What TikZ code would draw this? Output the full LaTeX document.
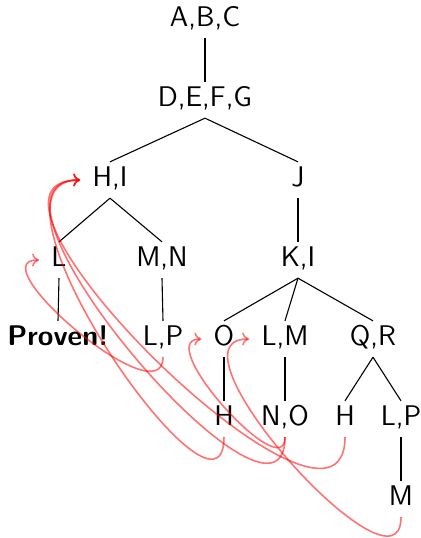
\documentclass[tikz,border=0pt]{standalone}
\usetikzlibrary{arrows.meta}
\begin{document}
\begin{tikzpicture}[x=0.5pt, y=-0.5pt,
  goal/.style={font=\fontsize{14.2}{17}\selectfont\sffamily, inner xsep=6pt, inner ysep=3.85pt,
               text height=0.85em, text depth=0.156em},
  branch/.style={draw=black, line width=0.55pt},
  back/.style={-{To[length=3.5pt,width=6.5pt]}, draw=red, draw opacity=0.55, line width=0.8pt}]
\useasboundingbox (0,0) rectangle (421,538);

% goal tree
\node[goal] (abc)  at (205,20)  {A,B,C};
\node[goal] (defg) at (205,100) {D,E,F,G};
\node[goal] (hi)   at (110,180) {H,I};
\node[goal] (j)    at (298,180) {J};
\node[goal] (l)    at (59,260)  {L};
\node[goal] (mn)   at (162,260) {M,N};
\node[goal] (ki)   at (298,260) {K,I};
\node[goal] (prov) at (58,339)  {\bfseries Proven!};
\node[goal] (lpa)  at (163,339) {L,P};
\node[goal] (o)    at (224,339) {O};
\node[goal] (lm)   at (285,339) {L,M};
\node[goal] (qr)   at (373,339) {Q,R};
\node[goal] (ha)   at (224,419) {H};
\node[goal] (no)   at (285,419) {N,O};
\node[goal] (hb)   at (345,419) {H};
\node[goal] (lpb)  at (401,419) {L,P};
\node[goal] (m)    at (401,499) {M};

\draw[branch] (abc.south) -- (defg.north);
\draw[branch] (defg.south) -- (hi.north);
\draw[branch] (defg.south) -- (j.north);
\draw[branch] (hi.south) -- (l.north);
\draw[branch] (hi.south) -- (mn.north);
\draw[branch] (j.south) -- (ki.north);
\draw[branch] (l.south) -- (prov.north);
\draw[branch] (mn.south) -- (lpa.north);
\draw[branch] (ki.south) -- (o.north);
\draw[branch] (ki.south) -- (lm.north);
\draw[branch] (ki.south) -- (qr.north);
\draw[branch] (o.south) -- (ha.north);
\draw[branch] (lm.south) -- (no.north);
\draw[branch] (qr.south) -- (hb.north);
\draw[branch] (qr.south) -- (lpb.north);
\draw[branch] (lpb.south) -- (m.north);

% jumps back to earlier goals
\draw[back] (lpa.south) to[out=-90,in=180] (l.west);
\draw[back] (ha.south)  to[out=-90,in=180] (hi.west);
\draw[back] (no.south)  to[out=-90,in=180] (hi.west);
\draw[back] (hb.south)  to[out=-90,in=180] (hi.west);
\draw[back] (no.south)  to[out=-90,in=180] (o.west);
\draw[back] (m.south)   to[out=-90,in=180] (lm.west);
\end{tikzpicture}
\end{document}
